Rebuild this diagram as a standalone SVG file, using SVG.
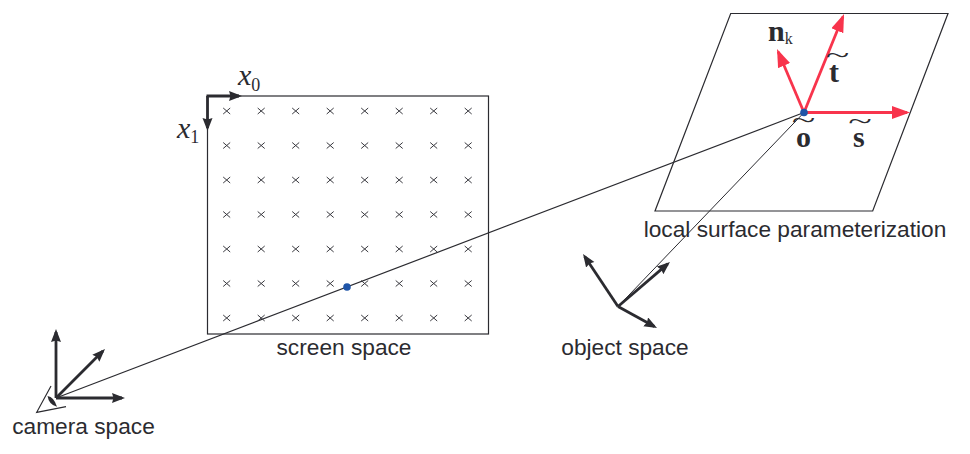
<svg xmlns="http://www.w3.org/2000/svg" width="970" height="454" viewBox="0 0 970 454">
<style>
.thin{fill:none;stroke:#2b2b30;stroke-width:1.2}
.ax{fill:none;stroke:#2b2b30;stroke-width:2.8}
.red{fill:none;stroke:#f8344c;stroke-width:2.8}
.lab{font-family:"Liberation Sans",Arial,sans-serif;font-size:22.7px;fill:#2b2b30}
.ser{font-family:"Liberation Serif","Times New Roman",serif;fill:#2b2b30}
.it{font-style:italic;font-size:30px}
.sub{font-size:18px;font-style:normal}
.bd{font-weight:bold;font-size:30px}
.til{font-size:30px;text-anchor:middle}
.c{fill:none;stroke:#3a3a40;stroke-width:1}
.dot{fill:#1f55a8}
</style>
<defs>
<marker id="ak" markerUnits="userSpaceOnUse" markerWidth="16" markerHeight="12" refX="10" refY="5" orient="auto"><path d="M0 0L13 5L0 10L1.500 5Z" fill="#2b2b30"/></marker>
<marker id="rd" markerUnits="userSpaceOnUse" markerWidth="20" markerHeight="16" refX="15" refY="6.500" orient="auto"><path d="M0 0L18 6.500L0 13Z" fill="#f8344c"/></marker>
<path id="cr" d="M-3.500-3L3.500 3M-3.500 3L3.500-3" class="c"/>
<g id="row">
<use href="#cr" x="226.700"/><use href="#cr" x="261.200"/><use href="#cr" x="295.700"/><use href="#cr" x="330.200"/><use href="#cr" x="364.700"/><use href="#cr" x="399.200"/><use href="#cr" x="433.700"/><use href="#cr" x="468.200"/>
</g>
</defs>
<g id="connectors">
<path class="thin" d="M56 398L804 112.500"/>
<path class="thin" stroke-width="1" style="stroke-width:1" d="M618 306.500L804 112.500"/>
</g>
<g id="screen-space">
<rect class="thin" x="207.500" y="96" width="281" height="238"/>
<use href="#row" y="111"/><use href="#row" y="145.500"/><use href="#row" y="180"/><use href="#row" y="214.500"/><use href="#row" y="249"/><use href="#row" y="283.500"/><use href="#row" y="318"/>
<path class="ax" d="M206.500 96H239" marker-end="url(#ak)"/>
<path class="ax" d="M207.500 96V128" marker-end="url(#ak)"/>
<text class="ser it" x="238" y="85">x<tspan class="sub" dy="6">0</tspan></text>
<text class="ser it" x="177" y="138">x<tspan class="sub" dy="5">1</tspan></text>
<circle class="dot" cx="347" cy="287" r="3.800"/>
<text class="lab" x="344" y="355" text-anchor="middle">screen space</text>
</g>
<g id="camera-space">
<path class="ax" d="M56 398V332" marker-end="url(#ak)"/>
<path class="ax" d="M56 398H122" marker-end="url(#ak)"/>
<path class="ax" d="M56 398L102.900 351.100" marker-end="url(#ak)"/>
<path class="thin" d="M51 386L36.700 412.300L66 406.700"/>
<path d="M47.500 396Q54 397 57 406.700Q49 405 47.500 396Z" fill="#2b2b30"/>
<text class="lab" x="83.500" y="434" text-anchor="middle">camera space</text>
</g>
<g id="object-space">
<path class="ax" d="M618 306.500L584.700 256.500" marker-end="url(#ak)"/>
<path class="ax" d="M618 306.500L667.700 263.900" marker-end="url(#ak)"/>
<path class="ax" d="M618 306.500L654.400 326.600" marker-end="url(#ak)"/>
<text class="lab" x="625" y="355" text-anchor="middle">object space</text>
</g>
<g id="local-surface">
<path class="thin" d="M730.700 13.500H948L872.700 211H655Z"/>
<path class="red" d="M804 112.500H907" marker-end="url(#rd)"/>
<path class="red" d="M804 112.500L842.900 16.800" marker-end="url(#rd)"/>
<path class="red" d="M804 112.500L778.200 51.800" marker-end="url(#rd)"/>
<circle class="dot" cx="804" cy="112.500" r="3.800"/>
<text class="ser bd" x="768" y="41">n<tspan font-weight="normal" font-size="16" dy="3">k</tspan></text>
<text class="ser bd" x="829" y="82">t</text>
<text class="ser bd" x="796" y="147">o</text>
<text class="ser bd" x="853" y="147">s</text>
<text class="ser til" transform="translate(837.500 63) scale(1.450 .8)">~</text>
<text class="ser til" transform="translate(803.500 128) scale(1.450 .8)">~</text>
<text class="ser til" transform="translate(860 128.500) scale(1.450 .8)">~</text>
<text class="lab" x="795" y="237" text-anchor="middle">local surface parameterization</text>
</g>
</svg>
